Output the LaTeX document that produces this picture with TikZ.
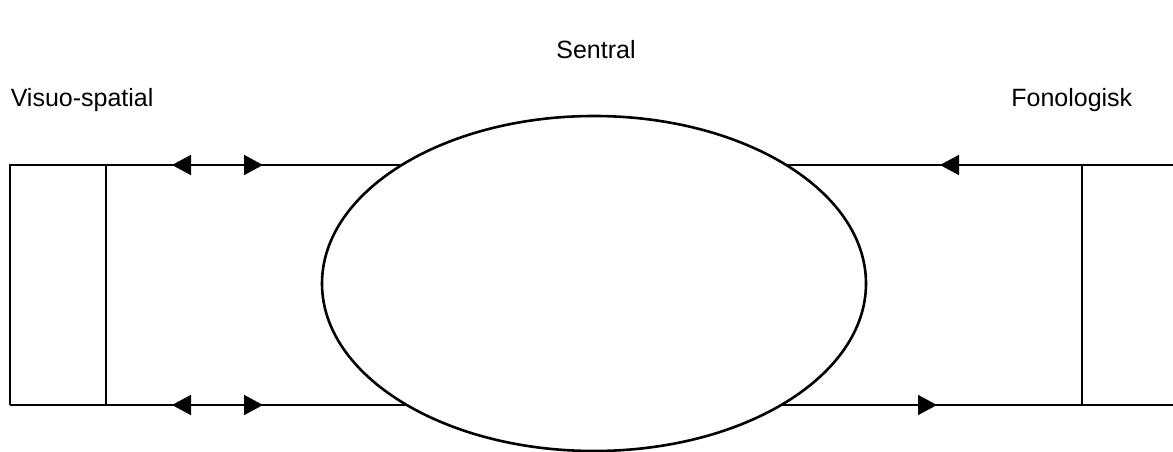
\documentclass[tikz,border=0pt]{standalone}
\usepackage{fontspec}
\setmainfont{Liberation Sans}
\usetikzlibrary{arrows.meta,shapes.geometric}
\begin{document}
\begin{tikzpicture}[x=1pt,y=-1pt,line width=1.5pt,
  lbl/.style={font=\fontsize{25}{30}\selectfont,inner sep=0pt},
  tipr/.style={-{Triangle[length=19pt,width=20pt]}},
  tipboth/.style={{Triangle[length=19pt,width=20pt]}-{Triangle[length=19pt,width=20pt]}},
  oval/.style={draw,ellipse,line width=2.6pt,fill=white,inner sep=0pt,minimum width=544pt,minimum height=335pt}]
\useasboundingbox (0,0) rectangle (1173,452);
% corner coordinates
\coordinate (ltl) at (10,165);
\coordinate (lbl) at (10,405);
\coordinate (lti) at (106,165);
\coordinate (lbi) at (106,405);
\coordinate (rti) at (1082,165);
\coordinate (rbi) at (1082,405);
\coordinate (rte) at (1173,165);
\coordinate (rbe) at (1173,405);
% arrow coordinates
\coordinate (a1) at (172,165);
\coordinate (a2) at (263,165);
\coordinate (b1) at (172,405);
\coordinate (b2) at (263,405);
\coordinate (c1) at (1000,165);
\coordinate (c2) at (940,165);
\coordinate (d1) at (880,405);
\coordinate (d2) at (937,405);
% lines
\draw (lbl) -- (ltl) -- (rte);
\draw (lbl) -- (rbe);
\draw (lti) -- (lbi);
\draw (rti) -- (rbi);
% arrows
\draw[tipboth] (a1) -- (a2);
\draw[tipboth] (b1) -- (b2);
\draw[tipr] (c1) -- (c2);
\draw[tipr] (d1) -- (d2);
% ellipse
\node[oval] (sentral) at (594,283.5) {};
% labels
\node[lbl] (tsentral) at (596,50) {Sentral};
\node[lbl,anchor=west] (tvisuo) at (10,100) {Visuo-spatial};
\node[lbl,anchor=east] (tfono) at (1133,100) {Fonologisk};
\end{tikzpicture}
\end{document}
